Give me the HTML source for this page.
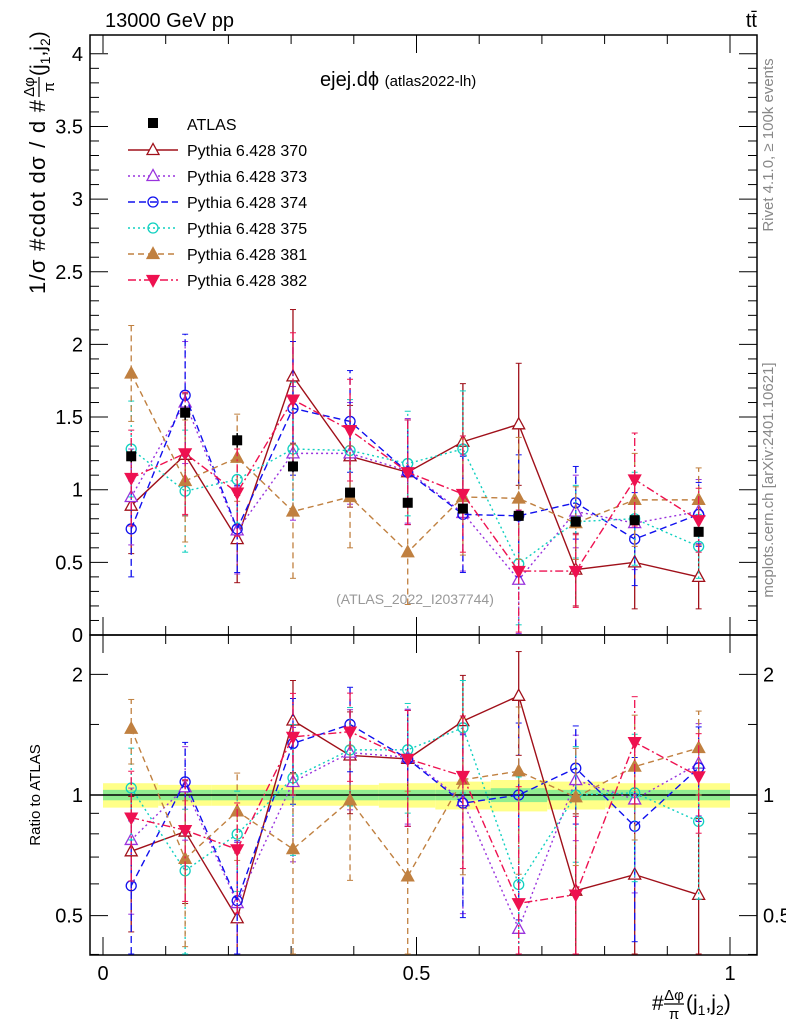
<!DOCTYPE html>
<html><head><meta charset="utf-8"><style>
body{margin:0;background:#fff;}
svg{font-family:"Liberation Sans","DejaVu Sans",sans-serif;}
</style></head><body>
<svg id="c" width="786" height="1024" viewBox="0 0 786 1024" xmlns="http://www.w3.org/2000/svg">
<rect x="90" y="35" width="667" height="600" fill="none" stroke="#000" stroke-width="1.5"/>
<rect x="90" y="635" width="667" height="320" fill="none" stroke="#000" stroke-width="1.5"/>
<g id="band"></g>
<g id="axes"></g>
<g id="series"></g>
<text x="105" y="27" font-size="20">13000 GeV pp</text>
<text x="757" y="27" font-size="20" text-anchor="end">tt̄</text>
<text x="320" y="86" font-size="20">ejej.dϕ <tspan font-size="15">(atlas2022-lh)</tspan></text>
<text x="415" y="604" font-size="14" fill="#999" text-anchor="middle">(ATLAS_2022_I2037744)</text>
<text transform="translate(773,145) rotate(-90)" font-size="15" fill="#888" text-anchor="middle">Rivet 4.1.0, ≥ 100k events</text>
<text transform="translate(773,480) rotate(-90)" font-size="15" fill="#888" text-anchor="middle">mcplots.cern.ch [arXiv:2401.10621]</text>
<g transform="translate(45,294) rotate(-90)">
<text x="0" y="0" font-size="22" textLength="194" lengthAdjust="spacing">1/σ #cdot dσ / d #</text>
<text x="207" y="-11" font-size="15" text-anchor="middle">Δφ</text>
<line x1="197" x2="217" y1="-6" y2="-6" stroke="#000" stroke-width="1.2"/>
<text x="207" y="9" font-size="15" text-anchor="middle">π</text>
<text x="218" y="0" font-size="21">(j<tspan font-size="14" dy="5">1</tspan><tspan dy="-5">,j</tspan><tspan font-size="14" dy="5">2</tspan><tspan dy="-5">)</tspan></text>
</g>
<text transform="translate(40,795) rotate(-90)" font-size="15" text-anchor="middle">Ratio to ATLAS</text>
<g>
<text x="652" y="1010" font-size="21">#</text>
<text x="674" y="1000" font-size="15" text-anchor="middle">Δφ</text>
<line x1="664" x2="684" y1="1004" y2="1004" stroke="#000" stroke-width="1.2"/>
<text x="674" y="1019" font-size="15" text-anchor="middle">π</text>
<text x="686" y="1010" font-size="21">(j<tspan font-size="14" dy="5">1</tspan><tspan dy="-5">,j</tspan><tspan font-size="14" dy="5">2</tspan><tspan dy="-5">)</tspan></text>
</g>
<g id="legend"></g>
</svg>
<script>
const xCenters=[0.045,0.131,0.214,0.303,0.394,0.486,0.574,0.663,0.754,0.848,0.950];
const atlas=[1.23,1.53,1.34,1.16,0.98,0.91,0.87,0.82,0.78,0.79,0.71];
const atlasErr=[0.04,0.05,0.05,0.04,0.03,0.03,0.03,0.03,0.03,0.03,0.03];
const bandInner=[0.03,0.03,0.03,0.03,0.03,0.03,0.03,0.04,0.03,0.03,0.03];
const bandOuter=[0.07,0.06,0.06,0.06,0.06,0.07,0.08,0.09,0.08,0.07,0.07];
const s370=[0.89,1.24,0.66,1.78,1.23,1.12,1.33,1.45,0.45,0.50,0.40];
const s373=[0.95,1.60,0.72,1.25,1.25,1.13,0.84,0.38,0.85,0.77,0.85];
const s374=[0.73,1.65,0.73,1.56,1.47,1.12,0.83,0.82,0.91,0.66,0.83];
const s375=[1.28,0.99,1.07,1.28,1.27,1.18,1.28,0.49,0.78,0.80,0.61];
const s381=[1.80,1.06,1.22,0.85,0.95,0.57,0.95,0.94,0.77,0.93,0.93];
const s382=[1.08,1.25,0.98,1.62,1.41,1.12,0.97,0.44,0.44,1.07,0.79];
const mcErr=[0.33,0.42,0.30,0.46,0.35,0.36,0.40,0.42,0.25,0.32,0.22];
const mainTicks=[0,0.5,1,1.5,2,2.5,3,3.5,4];
const ratioTicks=[0.5,1,2];
const xTicks=[0,0.5,1];

const NS="http://www.w3.org/2000/svg";
const X=v=>103+627*v;
const Y=v=>635-145.3*v;
const R=v=>795-174*Math.log(v);
function mk(p,tag,at){const e=document.createElementNS(NS,tag);for(const k in at)e.setAttribute(k,at[k]);p.appendChild(e);return e;}
const ax=document.getElementById('axes');
mainTicks.forEach(t=>{
 const l=mk(ax,'line',{x1:90,x2:108,y1:Y(t),y2:Y(t),stroke:'#000'});
 
 
 mk(ax,'line',{x1:739,x2:757,y1:Y(t),y2:Y(t),stroke:'#000'});
 const tx=mk(ax,'text',{x:83,y:Y(t)+7,'font-size':20,'text-anchor':'end'});tx.textContent=String(t);
 
 
});
for(let t=0.1;t<4.1;t+=0.1){if(Math.abs(t*2-Math.round(t*2))<1e-6)continue;mk(ax,'line',{x1:90,x2:99,y1:Y(t),y2:Y(t),stroke:'#000'});mk(ax,'line',{x1:748,x2:757,y1:Y(t),y2:Y(t),stroke:'#000'});}
ratioTicks.forEach(t=>{
 mk(ax,'line',{x1:90,x2:108,y1:R(t),y2:R(t),stroke:'#000'});
 mk(ax,'line',{x1:739,x2:757,y1:R(t),y2:R(t),stroke:'#000'});
 const a=mk(ax,'text',{x:83,y:R(t)+7,'font-size':20,'text-anchor':'end'});a.textContent=String(t);
 
 
 const b=mk(ax,'text',{x:763,y:R(t)+7,'font-size':20});b.textContent=String(t);
});
[0.4,0.6,0.7,0.8,0.9,1.5].forEach(t=>{mk(ax,'line',{x1:90,x2:99,y1:R(t),y2:R(t),stroke:'#000'});mk(ax,'line',{x1:748,x2:757,y1:R(t),y2:R(t),stroke:'#000'});});
xTicks.forEach(t=>{
 [[635,617],[35,53],[955,937],[635,653]].forEach(([a,b])=>mk(ax,'line',{x1:X(t),x2:X(t),y1:a,y2:b,stroke:'#000'}));
 const tx=mk(ax,'text',{x:X(t),y:980,'font-size':20,'text-anchor':'middle'});tx.textContent=String(t);
 
 
});
for(let t=0.1;t<1.0;t+=0.1){if(Math.abs(t-0.5)<1e-6)continue;[[635,626],[35,44],[955,946],[635,644]].forEach(([a,b])=>mk(ax,'line',{x1:X(t),x2:X(t),y1:a,y2:b,stroke:'#000'}));}
const bd=document.getElementById('band');
const edges=xCenters.map((c,i)=>i==0?0:(xCenters[i-1]+c)/2);edges.push(1);
xCenters.forEach((c,i)=>{
 const x0=X(edges[i]),x1=X(edges[i+1]);
 const y=mk(bd,'rect',{x:x0,y:R(1+bandOuter[i]),width:x1-x0,height:R(1-bandOuter[i])-R(1+bandOuter[i]),fill:'#ffff88'});
 
 
 mk(bd,'rect',{x:x0,y:R(1+bandInner[i]),width:x1-x0,height:R(1-bandInner[i])-R(1+bandInner[i]),fill:'#90ee90'});
});
mk(bd,'line',{x1:90,x2:757,y1:R(1),y2:R(1),stroke:'#000','stroke-width':1.5});
const sg=document.getElementById('series');
const series=[
 {n:'370',d:s370,c:'#a0101a',dash:'',m:'tri',f:false},
 {n:'373',d:s373,c:'#9933dd',dash:'2,3',m:'tri',f:false},
 {n:'374',d:s374,c:'#1010ee',dash:'7,4',m:'circ',f:false},
 {n:'375',d:s375,c:'#10d0c0',dash:'2,3',m:'circ',f:false},
 {n:'381',d:s381,c:'#c08040',dash:'6,4',m:'tri',f:true},
 {n:'382',d:s382,c:'#ee1150',dash:'8,3,2,3',m:'dtri',f:true},
];
function marker(g,m,x,y,c,f){
 if(m=='tri')return mk(g,'polygon',{points:`${x},${y-6.5} ${x-6},${y+4.5} ${x+6},${y+4.5}`,fill:f?c:'#fff',stroke:c,'stroke-width':1.3});
 if(m=='dtri')return mk(g,'polygon',{points:`${x},${y+6.5} ${x-6},${y-4.5} ${x+6},${y-4.5}`,fill:f?c:'#fff',stroke:c,'stroke-width':1.3});
 return mk(g,'circle',{cx:x,cy:y,r:5,fill:'none',stroke:c,'stroke-width':1.3});
}
function draw(vals,errs,ymap,s,clipTop,clipBot){
 const g=mk(sg,'g',{});
 
 
 const pts=xCenters.map((c,i)=>[X(c),Math.max(clipTop,Math.min(clipBot,ymap(vals[i])))]);
 mk(g,'polyline',{points:pts.map(p=>p.join(',')).join(' '),fill:'none',stroke:s.c,'stroke-width':1.4,'stroke-dasharray':s.dash});
 xCenters.forEach((c,i)=>{
  const lo=Math.min(clipBot,ymap(Math.max(vals[i]-errs[i],0.01))),hi=Math.max(clipTop,ymap(vals[i]+errs[i]));
  mk(g,'line',{x1:X(c),x2:X(c),y1:lo,y2:hi,stroke:s.c,'stroke-width':1.3,'stroke-dasharray':s.dash});
  mk(g,'line',{x1:X(c)-3,x2:X(c)+3,y1:lo,y2:lo,stroke:s.c});
  mk(g,'line',{x1:X(c)-3,x2:X(c)+3,y1:hi,y2:hi,stroke:s.c});
  const mm=marker(g,s.m,pts[i][0],pts[i][1],s.c,s.f);
  
  
 });
}
series.forEach(s=>{
 draw(s.d,mcErr,Y,s,36,634);
 draw(s.d.map((v,i)=>v/atlas[i]),mcErr.map((e,i)=>e/atlas[i]),R,s,636,954);
});
const ag=mk(sg,'g',{});


xCenters.forEach((c,i)=>{
 mk(ag,'line',{x1:X(c),x2:X(c),y1:Y(atlas[i]-atlasErr[i]),y2:Y(atlas[i]+atlasErr[i]),stroke:'#000','stroke-width':1.5});
 const r=mk(ag,'rect',{x:X(c)-5,y:Y(atlas[i])-5,width:10,height:10,fill:'#000'});
 
 
});
const lg=document.getElementById('legend');
mk(lg,'rect',{x:148,y:118,width:10,height:10,fill:'#000'});
let t0=mk(lg,'text',{x:187,y:130,'font-size':16});t0.textContent='ATLAS';
series.forEach((s,i)=>{
 const y=150+i*26;
 const e=mk(lg,'g',{});
 
 
 mk(e,'line',{x1:128,x2:178,y1:y,y2:y,stroke:s.c,'stroke-width':1.4,'stroke-dasharray':s.dash});
 marker(e,s.m,153,y,s.c,s.f);
 const t=mk(e,'text',{x:187,y:y+6,'font-size':16});t.textContent='Pythia 6.428 '+s.n;
});
</script>
</body></html>
